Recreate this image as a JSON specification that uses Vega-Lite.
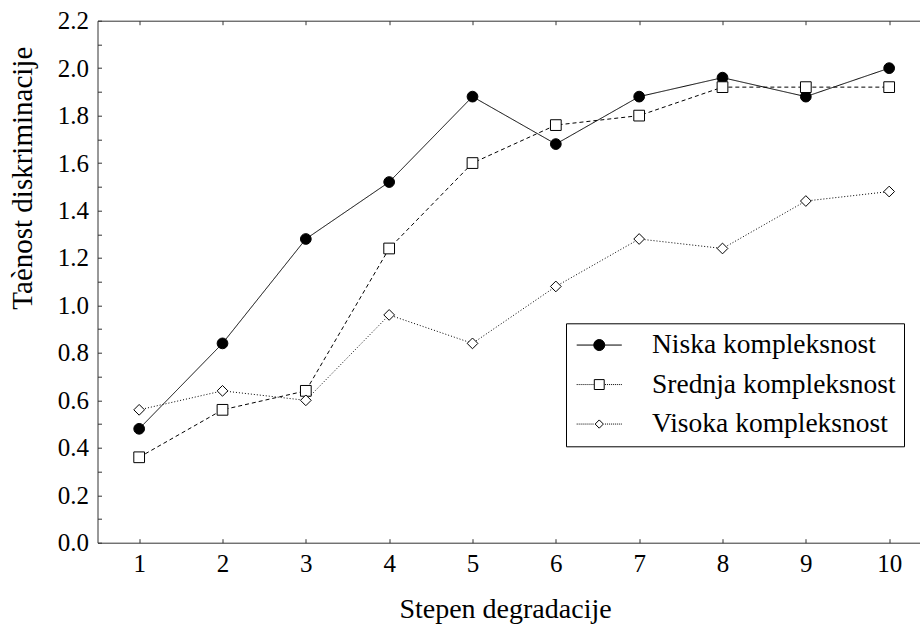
{
  "$schema": "https://vega.github.io/schema/vega-lite/v6.json",
  "autosize": "none",
  "width": 822.5,
  "height": 522,
  "padding": {"left": 97.5, "top": 20.7, "right": 0, "bottom": 83.3},
  "background": "white",
  "config": {
    "view": {"stroke": null},
    "font": "Liberation Serif",
    "axis": {
      "grid": false,
      "domainColor": "#333333",
      "tickColor": "#333333",
      "labelColor": "black",
      "titleColor": "black",
      "labelFont": "Liberation Serif",
      "titleFont": "Liberation Serif",
      "titleFontWeight": "normal"
    },
    "legend": {"labelFont": "Liberation Serif"}
  },
  "data": {
    "values": [
      {"x": 1, "v": 0.48, "series": "Niska kompleksnost"},
      {"x": 2, "v": 0.84, "series": "Niska kompleksnost"},
      {"x": 3, "v": 1.28, "series": "Niska kompleksnost"},
      {"x": 4, "v": 1.52, "series": "Niska kompleksnost"},
      {"x": 5, "v": 1.88, "series": "Niska kompleksnost"},
      {"x": 6, "v": 1.68, "series": "Niska kompleksnost"},
      {"x": 7, "v": 1.88, "series": "Niska kompleksnost"},
      {"x": 8, "v": 1.96, "series": "Niska kompleksnost"},
      {"x": 9, "v": 1.88, "series": "Niska kompleksnost"},
      {"x": 10, "v": 2.0, "series": "Niska kompleksnost"},
      {"x": 1, "v": 0.36, "series": "Srednja kompleksnost"},
      {"x": 2, "v": 0.56, "series": "Srednja kompleksnost"},
      {"x": 3, "v": 0.64, "series": "Srednja kompleksnost"},
      {"x": 4, "v": 1.24, "series": "Srednja kompleksnost"},
      {"x": 5, "v": 1.6, "series": "Srednja kompleksnost"},
      {"x": 6, "v": 1.76, "series": "Srednja kompleksnost"},
      {"x": 7, "v": 1.8, "series": "Srednja kompleksnost"},
      {"x": 8, "v": 1.92, "series": "Srednja kompleksnost"},
      {"x": 9, "v": 1.92, "series": "Srednja kompleksnost"},
      {"x": 10, "v": 1.92, "series": "Srednja kompleksnost"},
      {"x": 1, "v": 0.56, "series": "Visoka kompleksnost"},
      {"x": 2, "v": 0.64, "series": "Visoka kompleksnost"},
      {"x": 3, "v": 0.6, "series": "Visoka kompleksnost"},
      {"x": 4, "v": 0.96, "series": "Visoka kompleksnost"},
      {"x": 5, "v": 0.84, "series": "Visoka kompleksnost"},
      {"x": 6, "v": 1.08, "series": "Visoka kompleksnost"},
      {"x": 7, "v": 1.28, "series": "Visoka kompleksnost"},
      {"x": 8, "v": 1.24, "series": "Visoka kompleksnost"},
      {"x": 9, "v": 1.44, "series": "Visoka kompleksnost"},
      {"x": 10, "v": 1.48, "series": "Visoka kompleksnost"}
    ]
  },
  "resolve": {
    "scale": {"shape": "independent", "fill": "independent", "stroke": "independent"},
    "axis": {"x": "independent", "y": "independent"}
  },
  "layer": [
    {
      "mark": {"type": "line", "color": "black", "strokeWidth": 1},
      "encoding": {
        "x": {
          "field": "x", "type": "quantitative",
          "scale": {"domain": [0.5, 10.37], "nice": false, "zero": false},
          "axis": {
            "orient": "bottom",
            "values": [1, 2, 3, 4, 5, 6, 7, 8, 9, 10],
            "tickSize": -4,
            "labelFontSize": 25,
            "labelPadding": 13,
            "labelBaseline": "top",
            "title": "Stepen degradacije",
            "titleFontSize": 28,
            "titleX": 407.5,
            "titleY": 75,
            "titleAnchor": null,
            "titleBaseline": "alphabetic"
          }
        },
        "y": {
          "field": "v", "type": "quantitative",
          "scale": {"domain": [0, 2.2], "nice": false, "zero": true},
          "axis": {
            "values": [0, 0.1, 0.2, 0.3, 0.4, 0.5, 0.6, 0.7, 0.8, 0.9, 1.0, 1.1, 1.2, 1.3, 1.4, 1.5, 1.6, 1.7, 1.8, 1.9, 2.0, 2.1, 2.2],
            "labelExpr": "round(datum.value * 10) % 2 == 0 ? format(datum.value, '.1f') : ''",
            "tickSize": -4,
            "labelFontSize": 25,
            "labelPadding": 13,
            "labelBaseline": "middle",
            "title": "Taènost diskriminacije",
            "titleFontSize": 29,
            "titleAngle": -90,
            "titleX": -75,
            "titleY": 157,
            "titleAnchor": null,
            "titleAlign": "center",
            "titleBaseline": "middle"
          }
        },
        "detail": {"field": "series"},
        "strokeDash": {
          "field": "series", "type": "nominal",
          "scale": {
            "domain": ["Niska kompleksnost", "Srednja kompleksnost", "Visoka kompleksnost"],
            "range": [[1, 0], [4, 3], [1, 2]]
          },
          "legend": null
        }
      }
    },
    {
      "mark": {"type": "point", "stroke": "black", "strokeWidth": 1, "opacity": 1, "size": 115},
      "encoding": {
        "x": {"field": "x", "type": "quantitative", "scale": {"domain": [0.5, 10.37], "nice": false, "zero": false}, "axis": null},
        "y": {"field": "v", "type": "quantitative", "scale": {"domain": [0, 2.2], "nice": false}, "axis": null},
        "shape": {
          "field": "series", "type": "nominal",
          "scale": {
            "domain": ["Niska kompleksnost", "Srednja kompleksnost", "Visoka kompleksnost"],
            "range": ["circle", "square", "diamond"]
          },
          "legend": null
        },
        "fill": {
          "field": "series", "type": "nominal",
          "scale": {
            "domain": ["Niska kompleksnost", "Srednja kompleksnost", "Visoka kompleksnost"],
            "range": ["black", "white", "white"]
          },
          "legend": null
        }
      }
    },
    {
      "mark": {"type": "point", "strokeWidth": 1, "opacity": 0, "size": 121},
      "encoding": {
        "x": {
          "field": "x", "type": "quantitative",
          "scale": {"domain": [0.5, 10.37], "nice": false, "zero": false},
          "axis": {
            "orient": "top",
            "values": [1, 2, 3, 4, 5, 6, 7, 8, 9, 10],
            "tickSize": -4,
            "labels": false,
            "title": null
          }
        },
        "y": {"field": "v", "type": "quantitative", "scale": {"domain": [0, 2.2], "nice": false}, "axis": null},
        "stroke": {
          "field": "series", "type": "nominal",
          "scale": {
            "domain": ["Niska kompleksnost", "Srednja kompleksnost", "Visoka kompleksnost"],
            "range": ["black", "black", "black"]
          }
        },
        "shape": {
          "field": "series", "type": "nominal",
          "scale": {
            "domain": ["Niska kompleksnost", "Srednja kompleksnost", "Visoka kompleksnost"],
            "range": [
              "M-4.1,0H-1M1,0H4.1M1,0A1,1,0,1,1,-1,0A1,1,0,1,1,1,0Z",
              "M-4.1,0h0.18M-3.74,0h0.18M-3.38,0h0.18M-3.02,0h0.18M-2.66,0h0.18M-2.3,0h0.18M-1.94,0h0.18M-1.58,0h0.18M-1.22,0h0.18M1.04,0h0.18M1.4,0h0.18M1.76,0h0.18M2.12,0h0.18M2.48,0h0.18M2.84,0h0.18M3.2,0h0.18M3.56,0h0.18M3.92,0h0.18M-0.9,-0.9H0.9V0.9H-0.9Z",
              "M-4.1,0h0.18M-3.74,0h0.18M-3.38,0h0.18M-3.02,0h0.18M-2.66,0h0.18M-2.3,0h0.18M-1.94,0h0.18M-1.58,0h0.18M-1.22,0h0.18M1.04,0h0.18M1.4,0h0.18M1.76,0h0.18M2.12,0h0.18M2.48,0h0.18M2.84,0h0.18M3.2,0h0.18M3.56,0h0.18M3.92,0h0.18M-0.75,0L0,-0.75L0.75,0L0,0.75Z"
            ]
          },
          "legend": {
            "title": null,
            "orient": "none",
            "legendX": 468.5,
            "legendY": 302.6,
            "padding": 8,
            "strokeColor": "black",
            "fillColor": "white",
            "symbolSize": 121,
            "symbolStrokeWidth": 1,
            "symbolOpacity": 1,
            "symbolOffset": 11.5,
            "labelOffset": 39,
            "labelFontSize": 27.5,
            "labelColor": "black",
            "labelLimit": 400,
            "rowPadding": 10.5
          }
        },
        "fill": {
          "field": "series", "type": "nominal",
          "scale": {
            "domain": ["Niska kompleksnost", "Srednja kompleksnost", "Visoka kompleksnost"],
            "range": ["black", "white", "white"]
          }
        }
      }
    }
  ]
}
